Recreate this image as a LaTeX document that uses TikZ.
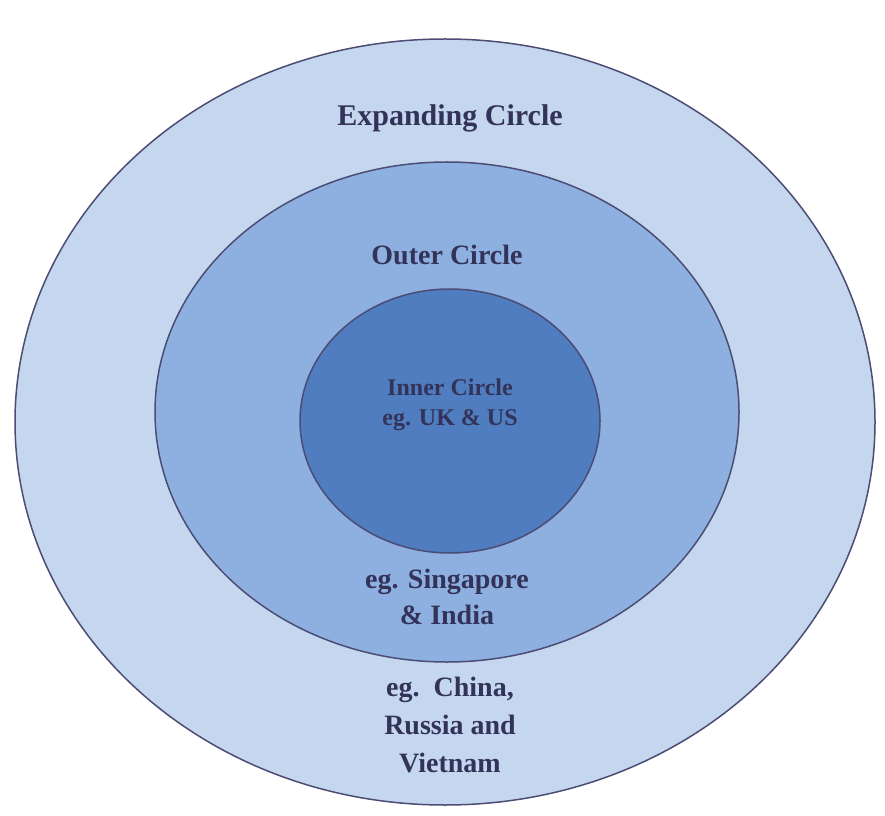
\documentclass[tikz,border=0pt]{standalone}
\usepackage{fontspec}
\setmainfont{Liberation Serif}
\begin{document}
\begin{tikzpicture}[x=1pt,y=1pt,
  ring/.style={draw=black!60!blue!40!gray, line width=1.5pt},
  lbl/.style={font=\bfseries, text=black!75!blue!60!gray, align=center, inner sep=0pt}]
\useasboundingbox (0,0) rectangle (885,815);
\fill[white] (0,0) rectangle (885,815);
\filldraw[ring, fill={rgb,255:red,197;green,215;blue,238}] (445,393) ellipse [x radius=430, y radius=383];
\filldraw[ring, fill={rgb,255:red,142;green,176;blue,224}] (447,403) ellipse [x radius=292, y radius=250];
\filldraw[ring, fill={rgb,255:red,80;green,124;blue,192}] (450,394) ellipse [x radius=150, y radius=132];
\node[lbl, font=\bfseries\fontsize{30}{36}\selectfont] (exp) at (450,697) {Expanding Circle};
\node[lbl, font=\bfseries\fontsize{28}{34}\selectfont] (out) at (447,560) {Outer Circle};
\node[lbl, font=\bfseries\fontsize{24}{30}\selectfont] (inn) at (450,410) {Inner Circle\\eg. UK \& US};
\node[lbl, font=\bfseries\fontsize{28}{36}\selectfont] (sg) at (447,218) {eg. Singapore\\\& India};
\node[lbl, font=\bfseries\fontsize{28}{38}\selectfont] (cn) at (450,90) {eg.\ \ China,\\Russia and\\Vietnam};
\end{tikzpicture}
\end{document}
